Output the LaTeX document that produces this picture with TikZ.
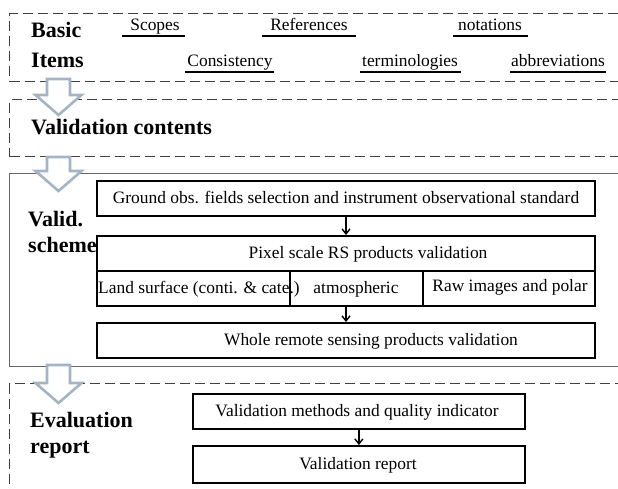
\documentclass[tikz,border=0pt]{standalone}
\usepackage{fontspec}
\setmainfont{Liberation Serif}
\usetikzlibrary{arrows.meta}
\definecolor{arrowgray}{HTML}{A5B4C4}
\definecolor{framegray}{HTML}{404040}
\tikzset{
  dbox/.style={draw=framegray, dash pattern=on 10pt off 5pt, line width=1.2pt, inner sep=0, anchor=north west},
  sbox/.style={draw=black!60, line width=1.3pt, inner sep=0, anchor=north west},
  ibox/.style={draw=black, line width=1.8pt, inner sep=0, anchor=north west},
  lbl/.style={font=\fontsize{22}{26}\selectfont\bfseries, anchor=base west, inner sep=0},
  itm/.style={font=\fontsize{17.4}{20}\selectfont, inner sep=0, anchor=base},
  uline/.style={draw=black, line width=1.8pt},
  flow/.style={draw=black, line width=1.4pt, -{Straight Barb[length=5pt,width=8pt,line width=1.4pt]}},
  blockarrow/.style={draw=arrowgray, line width=2.6pt, fill=white, line join=miter}
}
\begin{document}
\begin{tikzpicture}[x=1pt,y=-1pt]
\useasboundingbox (0,0) rectangle (618,488);
% outer frames
\node[dbox, minimum width=630pt, minimum height=68pt] (b1) at (9,13) {};
\node[dbox, minimum width=630pt, minimum height=57pt] (b2) at (9,99) {};
\node[sbox, minimum width=630pt, minimum height=193pt] (b3) at (9,173) {};
\node[dbox, minimum width=630pt, minimum height=120pt] (b4) at (9,383) {};
% section labels
\node[lbl] (basic) at (31,37) {Basic};
\node[lbl] (items) at (31,67) {Items};
\node[lbl] (vc) at (31,134) {Validation contents};
\node[lbl] (valid) at (28,226) {Valid.};
\node[lbl] (scheme) at (28,252) {scheme};
\node[lbl] (eval) at (30,427) {Evaluation};
\node[lbl] (rep) at (30,453) {report};
% basic items
\node[itm] (scopes) at (155,30) {Scopes};
\node[itm] (refs) at (309,30) {References};
\node[itm] (nota) at (490,30) {notations};
\node[itm] (cons) at (230,66) {Consistency};
\node[itm] (term) at (410,66) {terminologies};
\node[itm] (abbr) at (558,66) {abbreviations};
\draw[uline] (122,36) -- (185,36);
\draw[uline] (262,36) -- (356,36);
\draw[uline] (453,36) -- (528,36);
\draw[uline] (185,72) -- (274,72);
\draw[uline] (360,72) -- (461,72);
\draw[uline] (510,72) -- (606,72);
% validation scheme
\node[ibox, minimum width=498pt, minimum height=35pt] (ground) at (96,180) {};
\node[itm] (groundt) at (346,203) {Ground obs. fields selection and instrument observational standard};
\node[ibox, minimum width=498pt, minimum height=35pt] (pixel) at (96,235) {};
\node[itm] (pixelt) at (368,258) {Pixel scale RS products validation};
\node[ibox, minimum width=193pt, minimum height=35pt] (land) at (96,270) {};
\node[ibox, minimum width=133pt, minimum height=35pt] (atm) at (289,270) {};
\node[ibox, minimum width=172pt, minimum height=35pt] (raw) at (422,270) {};
\node[itm, anchor=base west] (landt) at (98,293) {Land surface (conti. \& cate.)};
\node[itm] (atmt) at (356,293) {atmospheric};
\node[itm] (rawt) at (510,291) {Raw images and polar};
\node[ibox, minimum width=498pt, minimum height=35pt] (whole) at (96,322) {};
\node[itm] (wholet) at (371,345) {Whole remote sensing products validation};
\draw[flow] (ground.south -| 346,0) -- (pixel.north -| 346,0);
\draw[flow] (atm.south -| 346,0) -- (whole.north -| 346,0);
% evaluation report
\node[ibox, minimum width=332pt, minimum height=35pt] (methods) at (192,393) {};
\node[itm] (methodst) at (357,416) {Validation methods and quality indicator};
\node[ibox, minimum width=332pt, minimum height=37pt] (report) at (192,445) {};
\node[itm] (reportt) at (358,469) {Validation report};
\draw[flow] (methods) -- (report);
% block arrows
\draw[blockarrow] (47,79) -- (70,79) -- (70,95) -- (81.5,95) -- (58.5,115) -- (35.5,95) -- (47,95) -- cycle;
\draw[blockarrow] (47,157) -- (70,157) -- (70,171) -- (81.5,171) -- (58.5,191) -- (35.5,171) -- (47,171) -- cycle;
\draw[blockarrow] (47,365) -- (70,365) -- (70,383) -- (81.5,383) -- (58.5,403) -- (35.5,383) -- (47,383) -- cycle;
\end{tikzpicture}
\end{document}
